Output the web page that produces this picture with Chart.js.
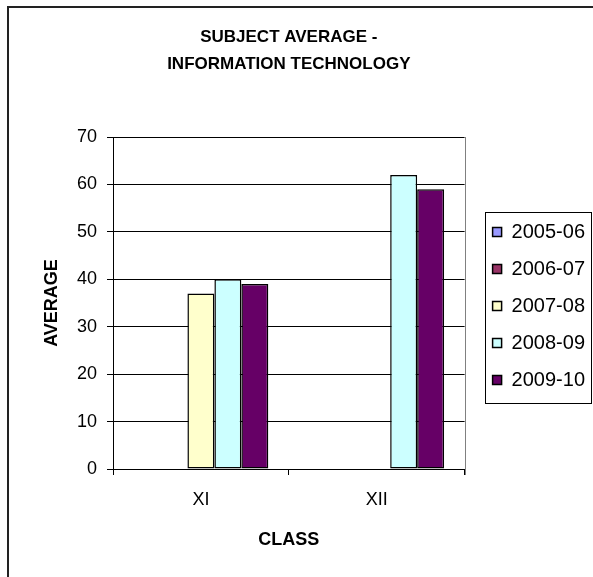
<!DOCTYPE html>
<html>
<head>
<meta charset="utf-8">
<script src="https://cdn.jsdelivr.net/npm/chart.js@4.4.0/dist/chart.umd.min.js"></script>
<style>
html, body { margin: 0; padding: 0; background: #fff; }
#wrap { width: 593px; height: 577px; }
</style>
</head>
<body>
<div id="wrap"><canvas id="itchart" width="593" height="577"></canvas></div>
<script>
const classes = ['XI', 'XII'];
const sessions = ['2005-06', '2006-07', '2007-08', '2008-09', '2009-10'];
const avg0506 = [null, null];
const avg0607 = [null, null];
const avg0708 = [37, null];
const avg0809 = [40, 62];
const avg0910 = [39, 59];
const yMin = 0, yMax = 70, yStep = 10;
const titleLines = ['SUBJECT AVERAGE -', 'INFORMATION TECHNOLOGY'];

const barColors = ['#9999FF', '#993366', '#FFFFCC', '#CCFFFF', '#660066'];
const seriesValues = [avg0506, avg0607, avg0708, avg0809, avg0910];

Chart.defaults.font.family = "'Liberation Sans', Arial, sans-serif";
Chart.defaults.color = '#000';

// white page, frame line along top and left, grey right edge of the plot
const framePlugin = {
    id: 'frame',
    beforeDraw(chart) {
        const ctx = chart.ctx;
        ctx.save();
        ctx.fillStyle = '#fff';
        ctx.fillRect(0, 0, chart.width, chart.height);
        ctx.strokeStyle = '#222';
        ctx.lineWidth = 2;
        ctx.strokeRect(8, 7, chart.width + 20, chart.height + 20);
        ctx.restore();
    },
    beforeDatasetsDraw(chart) {
        const a = chart.chartArea;
        const ctx = chart.ctx;
        const x = Math.round(a.right) + 0.5;
        ctx.save();
        ctx.strokeStyle = '#808080';
        ctx.lineWidth = 1;
        ctx.beginPath();
        ctx.moveTo(x, a.top);
        ctx.lineTo(x, a.bottom + 6);
        ctx.stroke();
        ctx.restore();
    }
};

// leave a gap between the plot and the legend
const legendGapPlugin = {
    id: 'legendGap',
    afterLayout(chart) {
        const lg = chart.legend;
        lg.left += 11;
        lg.right += 11;
        lg.top += 3;
        lg.bottom += 3;
    }
};

// two line bold heading
const headingPlugin = {
    id: 'heading',
    afterDraw(chart) {
        const a = chart.chartArea;
        const ctx = chart.ctx;
        ctx.save();
        ctx.font = "bold 17px 'Liberation Sans', Arial, sans-serif";
        ctx.fillStyle = '#000';
        ctx.textAlign = 'center';
        ctx.textBaseline = 'middle';
        titleLines.forEach(function(line, i) {
            ctx.fillText(line, (a.left + a.right) / 2, 37 + i * 27);
        });
        ctx.restore();
    }
};

// box around the legend items
const legendBoxPlugin = {
    id: 'legendBox',
    afterDraw(chart) {
        const boxes = chart.legend && chart.legend.legendHitBoxes;
        if (!boxes || !boxes.length) return;
        const first = boxes[0];
        const last = boxes[boxes.length - 1];
        const ctx = chart.ctx;
        ctx.save();
        ctx.strokeStyle = '#000';
        ctx.lineWidth = 1;
        const left = Math.round(first.left - 8) + 0.5;
        const top = Math.round(first.top - 10) + 0.5;
        const bottom = Math.round(last.top + last.height + 13) + 0.5;
        const right = chart.width - 1.5;
        ctx.strokeRect(left, top, right - left, bottom - top);
        ctx.restore();
    }
};

const ctx = document.getElementById('itchart').getContext('2d');
new Chart(ctx, {
    type: 'bar',
    data: {
        labels: classes,
        datasets: sessions.map(function(name, i) {
            return {
                label: name,
                data: seriesValues[i],
                backgroundColor: barColors[i],
                borderColor: '#000',
                borderWidth: 1.5,
                borderSkipped: false,
                categoryPercentage: 0.767,
                barPercentage: 1.0
            };
        })
    },
    options: {
        responsive: false,
        animation: false,
        layout: {
            padding: { top: 137, left: 0, right: 9, bottom: 0 }
        },
        plugins: {
            title: { display: false },
            tooltip: { enabled: false },
            legend: {
                position: 'right',
                fullSize: false,
                labels: {
                    boxWidth: 9,
                    boxHeight: 9,
                    padding: 17,
                    color: '#000',
                    font: { size: 20 }
                }
            }
        },
        scales: {
            x: {
                grid: {
                    drawOnChartArea: false,
                    drawTicks: true,
                    tickLength: 6,
                    color: '#000'
                },
                border: { color: '#000', width: 1 },
                ticks: { padding: 14, font: { size: 18 }, color: '#000' },
                title: {
                    display: true,
                    text: 'CLASS',
                    font: { size: 18, weight: 'bold' },
                    color: '#000',
                    padding: { top: 0, bottom: 26 }
                },
                afterFit(scale) { scale.height = 108; }
            },
            y: {
                min: yMin,
                max: yMax,
                ticks: { stepSize: yStep, padding: 10, font: { size: 18 }, color: '#000' },
                grid: { color: '#000', tickLength: 6 },
                border: { color: '#000', width: 1 },
                title: {
                    display: true,
                    text: 'AVERAGE',
                    font: { size: 18, weight: 'bold' },
                    color: '#000',
                    padding: { top: 41, bottom: 0 }
                },
                afterFit(scale) { scale.width = 113; }
            }
        }
    },
    plugins: [framePlugin, legendGapPlugin, headingPlugin, legendBoxPlugin]
});
</script>
</body>
</html>
